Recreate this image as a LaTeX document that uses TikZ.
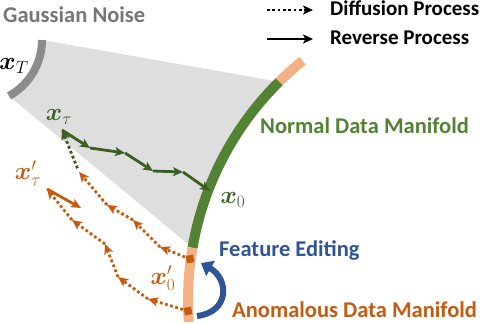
\documentclass[tikz,border=0pt]{standalone}
\usepackage{amsmath,bm}
\usepackage{fontspec}
\setmainfont{Carlito}
\usepackage{tikz}
\usetikzlibrary{arrows.meta, calc}

\definecolor{noisefill}{HTML}{DEDEDE}
\definecolor{noisegray}{HTML}{8C8C8C}
\definecolor{noisetext}{HTML}{767676}
\definecolor{normband}{HTML}{548235}
\definecolor{normdark}{HTML}{3B5E24}
\definecolor{anomband}{HTML}{F4B183}
\definecolor{anomdark}{HTML}{C55A11}
\definecolor{featblue}{HTML}{2F5597}

\begin{document}
\begin{tikzpicture}[
    x=1pt, y=-1pt,
    every node/.style={font=\fontsize{22.5}{26}\selectfont\bfseries, inner sep=0pt},
    legendtext/.style={anchor=base west, font=\fontsize{21}{25}\selectfont\bfseries},
    mathlbl/.style={font=\fontsize{26}{30}\selectfont},
    band/.style={line width=10pt},
    fwd/.style={-{Stealth[length=10pt, width=9pt, inset=2.5pt]}, line width=2.8pt,
                dash pattern=on 2.8pt off 2.5pt},
    rev/.style={-{Stealth[length=10pt, width=9pt, inset=2.5pt]}, line width=2.8pt},
    edit/.style={-{Triangle[length=11pt, width=17pt]}, line width=6pt, draw=featblue},
    sq/.style={fill=anomdark, minimum size=7.5pt, inner sep=0pt, rotate=10},
]
\useasboundingbox (0,0) rectangle (480,324);

%% --- Circle centres ---
\coordinate (mc) at (495,300);
\coordinate (nc) at (-22,40);
\coordinate (mtop)  at ($(mc)+(128.8:307pt)$);
\coordinate (mnorm) at ($(mc)+(134.7:307pt)$);
\coordinate (mlow)  at ($(mc)+(170.2:307pt)$);
\coordinate (ntop)  at ($(nc)+(0:64pt)$);
\coordinate (nbot)  at ($(nc)+(-61:64pt)$);

%% --- Gray region ---
\fill[noisefill] (ntop) -- (mnorm) arc[start angle=134.7, end angle=170.2, radius=307pt]
    -- (nbot) arc[start angle=-61, end angle=0, radius=64pt] -- cycle;

%% --- Manifolds ---
\draw[band, noisegray, line width=8pt] (ntop) arc[start angle=0, end angle=-61, radius=64pt];
\draw[band, anomband] (mtop) arc[start angle=128.8, end angle=134.7, radius=307pt];
\draw[band, normband] (mnorm) arc[start angle=134.7, end angle=170.2, radius=307pt];
\draw[band, anomband] (mlow) arc[start angle=170.2, end angle=184.1, radius=307pt];

%% --- Path points ---
\coordinate (xt) at (62,130);
\coordinate (g1) at (90,148);
\coordinate (g2) at (125,153);
\coordinate (g3) at (153,171);
\coordinate (g4) at (183,172);
\coordinate (x0) at (210,191);

\coordinate (a0) at (190,259);
\coordinate (a1) at (160,247);
\coordinate (a2) at (133,220);
\coordinate (a3) at (107,205);
\coordinate (a4) at (79,172);

\coordinate (b0) at (188,311);
\coordinate (b1) at (148,299);
\coordinate (b2) at (118,277);
\coordinate (b3) at (105,244);
\coordinate (b4) at (72,220);
\coordinate (b5) at (47,189);
\coordinate (b6) at (81,208);

%% --- Normal sample ---
\draw[fwd, normdark, shorten <=4pt] (a4) -- (xt);
\foreach \a/\b in {xt/g1, g1/g2, g2/g3, g3/g4, g4/x0}
    \draw[rev, normdark] (\a) -- (\b);

%% --- Anomalous sample ---
\foreach \a/\b in {a0/a1, a1/a2, a2/a3, a3/a4, b0/b1, b1/b2, b2/b3, b3/b4, b4/b5}
    \draw[fwd, anomdark] (\a) -- (\b);
\draw[rev, anomdark] (b5) -- (b6);
\node[sq] (sqa) at (a0) {};
\node[sq] (sqb) at (b0) {};

%% --- Feature editing ---
\coordinate (fe1) at (197,316);
\coordinate (fe2) at (201,263);
\draw[edit] (fe1) .. controls (230,312) and (229,279) .. (fe2);

%% --- Labels ---
\node[anchor=base west, text=noisetext] (gauss) at (3,23) {Gaussian Noise};
\node[anchor=base west, text=normband] (normal) at (260,133) {Normal Data Manifold};
\node[anchor=base west, text=featblue] (feat) at (219,256) {Feature Editing};
\node[anchor=base west, text=anomdark] (anom) at (232,317) {Anomalous Data Manifold};

\node[mathlbl] (lxT) at (14,66) {$\bm{x}_{T}$};
\node[mathlbl, text=normdark] (lxt) at (59,117) {$\bm{x}_{\tau}$};
\node[mathlbl, text=normdark] (lx0) at (233,200) {$\bm{x}_{0}$};
\node[mathlbl, text=anomdark] (lxta) at (28,173) {$\bm{x}'_{\tau}$};
\node[mathlbl, text=anomdark] (lx0a) at (163,278) {$\bm{x}'_{0}$};

%% --- Legend ---
\coordinate (ld1) at (267,10);
\coordinate (ld2) at (313,10);
\coordinate (lr1) at (267,39);
\coordinate (lr2) at (313,39);
\draw[fwd, black] (ld1) -- (ld2);
\draw[rev, black] (lr1) -- (lr2);
\node[legendtext] (diff) at (330,16) {Diffusion Process};
\node[legendtext] (reve) at (330,45) {Reverse Process};

\end{tikzpicture}
\end{document}
